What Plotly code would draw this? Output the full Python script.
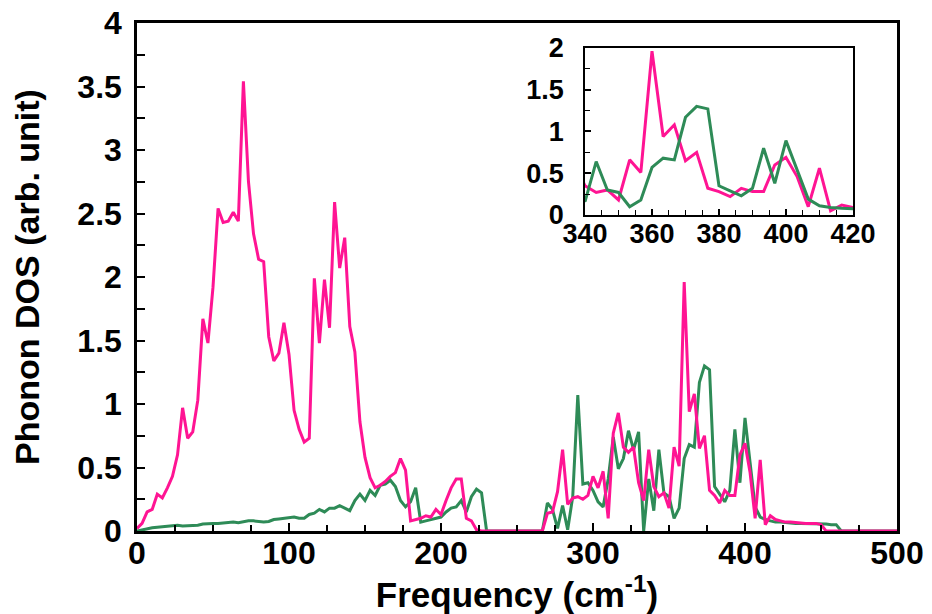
import plotly.graph_objects as go

# Frequency grid (cm^-1), step 10/3
freq = [round(k * 10 / 3, 3) for k in range(151)]

pink_dos = [
    0.02, 0.06, 0.15, 0.17, 0.29, 0.26, 0.34, 0.43, 0.60, 0.97,   # k0-9
    0.73, 0.78, 1.03, 1.67, 1.48, 1.92, 2.54, 2.43, 2.44, 2.51,   # k10-19
    2.44, 3.54, 2.75, 2.34, 2.14, 2.12, 1.53, 1.34, 1.40, 1.64,   # k20-29
    1.39, 0.95, 0.80, 0.70, 0.73, 1.99, 1.48, 1.98, 1.60, 2.59,   # k30-39
    2.07, 2.31, 1.61, 1.41, 0.86, 0.58, 0.42, 0.34, 0.36, 0.39,   # k40-49
    0.43, 0.46, 0.57, 0.48, 0.08, 0.09, 0.10, 0.12, 0.11, 0.17,   # k50-59
    0.13, 0.24, 0.34, 0.41, 0.41, 0.10, 0.08, 0.01, 0.0, 0.0,     # k60-69
    0.0, 0.0, 0.0, 0.0, 0.0, 0.0, 0.0, 0.0, 0.0, 0.0,             # k70-79
    0.0, 0.14, 0.15, 0.31, 0.64, 0.21, 0.26, 0.27, 0.25, 0.28,    # k80-89
    0.43, 0.34, 0.47, 0.10, 0.77, 0.93, 0.66, 0.62, 0.66, 0.38,   # k90-99
    0.24, 0.64, 0.35, 0.27, 0.30, 0.18, 0.66, 0.51, 1.96, 0.94,   # k100-109
    1.08, 0.65, 0.75, 0.32, 0.28, 0.22, 0.32, 0.28, 0.28, 0.60,   # k110-119
    0.69, 0.46, 0.10, 0.56, 0.05, 0.12, 0.09, 0.08, 0.07, 0.07,   # k120-129
    0.065, 0.065, 0.06, 0.06, 0.06, 0.05, 0.0, 0.0, 0.0, 0.0,     # k130-139
    0.0, 0.0, 0.0, 0.0, 0.0, 0.0, 0.0, 0.0, 0.0, 0.0,             # k140-149
    0.0,                                                          # k150
]

green_dos = [
    0.0, 0.01, 0.02, 0.025, 0.03, 0.035, 0.04, 0.045, 0.045, 0.04,  # k0-9
    0.04, 0.04, 0.045, 0.055, 0.06, 0.06, 0.06, 0.065, 0.065, 0.07, # k10-19
    0.065, 0.075, 0.08, 0.08, 0.075, 0.07, 0.075, 0.09, 0.095, 0.10,# k20-29
    0.10, 0.11, 0.10, 0.10, 0.13, 0.14, 0.17, 0.15, 0.18, 0.18,     # k30-39
    0.20, 0.18, 0.16, 0.24, 0.29, 0.24, 0.32, 0.28, 0.36, 0.37,     # k40-49
    0.40, 0.35, 0.24, 0.19, 0.23, 0.34, 0.07, 0.08, 0.09, 0.10,     # k50-59
    0.11, 0.15, 0.18, 0.19, 0.24, 0.15, 0.27, 0.33, 0.30, 0.0,      # k60-69
    0.0, 0.0, 0.0, 0.0, 0.0, 0.0, 0.0, 0.0, 0.0, 0.0,               # k70-79
    0.0, 0.22, 0.17, 0.02, 0.20, 0.01, 0.27, 1.07, 0.37, 0.38,      # k80-89
    0.32, 0.23, 0.19, 0.41, 0.74, 0.49, 0.57, 0.79, 0.64, 0.78,     # k90-99
    0.0, 0.41, 0.16, 0.64, 0.30, 0.27, 0.10, 0.18, 0.57, 0.68,      # k100-109
    0.66, 1.17, 1.30, 1.27, 0.35, 0.29, 0.23, 0.32, 0.80, 0.38,     # k110-119
    0.89, 0.54, 0.19, 0.11, 0.09, 0.08, 0.07, 0.07, 0.065, 0.065,   # k120-129
    0.06, 0.06, 0.06, 0.06, 0.055, 0.055, 0.055, 0.05, 0.05, 0.0,   # k130-139
    0.0, 0.0, 0.0, 0.0, 0.0, 0.0, 0.0, 0.0, 0.0, 0.0,               # k140-149
    0.0,                                                            # k150
]

main_xticks = [0, 100, 200, 300, 400, 500]
main_yticks = [0, 0.5, 1, 1.5, 2, 2.5, 3, 3.5, 4]
inset_xticks = [340, 360, 380, 400, 420]
inset_yticks = [0, 0.5, 1, 1.5, 2]

PINK = "#FF1493"
GREEN = "#2E8B57"
FONT = "Liberation Sans"
LW = 3

fig = go.Figure()
for ys, col in ((green_dos, GREEN), (pink_dos, PINK)):
    fig.add_trace(go.Scatter(x=freq, y=ys, mode="lines",
                             line=dict(color=col, width=LW),
                             xaxis="x", yaxis="y", showlegend=False))
for ys, col in ((pink_dos, PINK), (green_dos, GREEN)):
    fig.add_trace(go.Scatter(x=freq, y=ys, mode="lines",
                             line=dict(color=col, width=LW),
                             xaxis="x2", yaxis="y2", showlegend=False))

tickfont_main = dict(family=FONT, size=32, color="black", weight="bold")
tickfont_inset = dict(family=FONT, size=27, color="black", weight="bold")

# The page body has an 8px margin, so the figure is sized 8px smaller
fig.update_layout(
    width=924, height=606,
    margin=dict(l=129, r=35, t=15, b=83, autoexpand=False),
    paper_bgcolor="white", plot_bgcolor="white",
    xaxis=dict(
        range=[0, 500], domain=[0, 1], automargin=False,
        tickvals=main_xticks, ticktext=[str(v) for v in main_xticks],
        ticks="inside", ticklen=8, tickwidth=2, tickcolor="black",
        minor=dict(dtick=25, ticks="inside", ticklen=6, tickwidth=1.5, tickcolor="black"),
        showline=True, linewidth=2.5, linecolor="black", mirror=True,
        showgrid=False, zeroline=False,
        tickfont=tickfont_main, ticklabelstandoff=-8, ticklabeloverflow="allow",
        title=dict(text="Frequency (cm<sup>-1</sup>)",
                   font=dict(family=FONT, size=35, color="black", weight="bold"),
                   standoff=2),
    ),
    yaxis=dict(
        range=[0, 4], domain=[0, 1], automargin=False,
        tickvals=main_yticks, ticktext=["0", "0.5", "1", "1.5", "2", "2.5", "3", "3.5", "4"],
        ticks="inside", ticklen=8, tickwidth=2, tickcolor="black",
        minor=dict(dtick=0.25, ticks="inside", ticklen=8, tickwidth=1.5, tickcolor="black"),
        showline=True, linewidth=2.5, linecolor="black", mirror=True,
        showgrid=False, zeroline=False,
        tickfont=tickfont_main, ticklabelstandoff=6, ticklabeloverflow="allow",
        title=dict(text="Phonon DOS (arb. unit)",
                   font=dict(family=FONT, size=34, color="black", weight="bold"),
                   standoff=36),
    ),
    xaxis2=dict(
        range=[340, 420], domain=[0.5895, 0.942], anchor="y2", automargin=False,
        tickvals=inset_xticks, ticktext=[str(v) for v in inset_xticks],
        ticks="inside", ticklen=6, tickwidth=1.5, tickcolor="black",
        minor=dict(dtick=5, ticks="inside", ticklen=5, tickwidth=1.2, tickcolor="black"),
        showline=True, linewidth=1.5, linecolor="black", mirror=True,
        showgrid=False, zeroline=False,
        tickfont=tickfont_inset, ticklabelstandoff=-6,
    ),
    yaxis2=dict(
        range=[0, 2], domain=[0.622, 0.951], anchor="x2", automargin=False,
        tickvals=inset_yticks, ticktext=["0", "0.5", "1", "1.5", "2"],
        ticks="inside", ticklen=6, tickwidth=1.5, tickcolor="black",
        minor=dict(dtick=0.25, ticks="inside", ticklen=5, tickwidth=1.2, tickcolor="black"),
        showline=True, linewidth=1.5, linecolor="black", mirror=True,
        showgrid=False, zeroline=False,
        tickfont=tickfont_inset, ticklabelstandoff=14,
    ),
)

fig.write_html("out.html")
